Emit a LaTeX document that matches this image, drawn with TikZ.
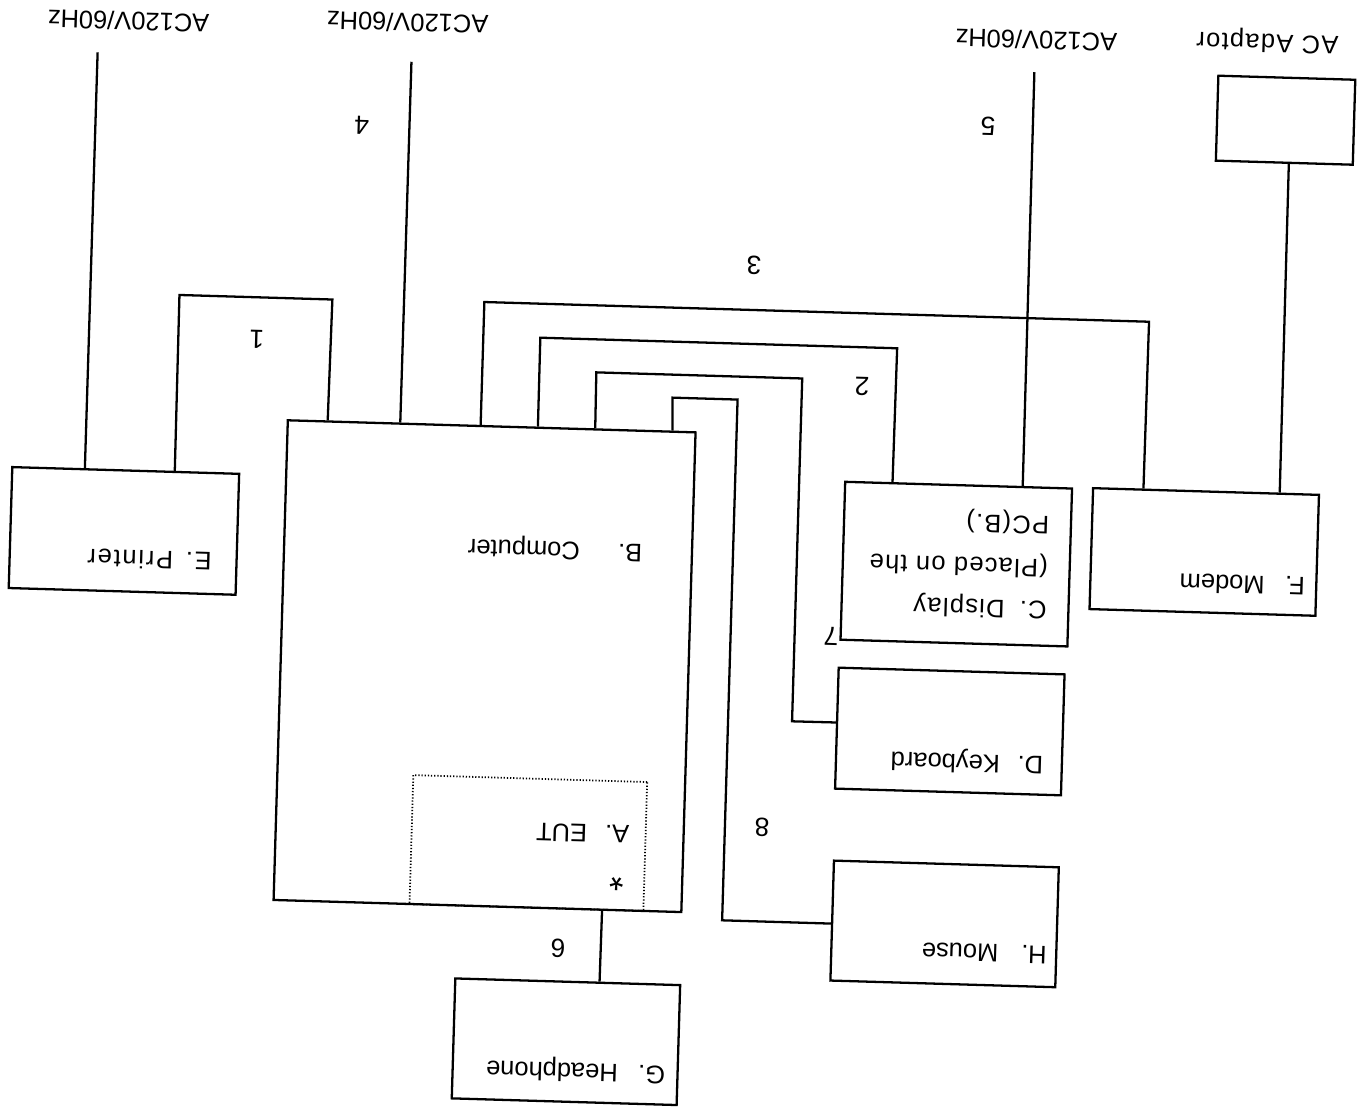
\documentclass[tikz,border=0pt]{standalone}
\usepackage{fontspec}
\setmainfont{Liberation Sans}
\newfontfamily\widef[LetterSpace=5]{Liberation Sans}
\newfontfamily\widerf[LetterSpace=7]{Liberation Sans}
\usetikzlibrary{calc}
\begin{document}
\begin{tikzpicture}[x=0.02cm,y=-0.02cm,
  box/.style={draw, line width=1.3pt, inner sep=0pt},
  eutbox/.style={draw, line width=1pt, dash pattern=on 0.7pt off 1.1pt, inner sep=0pt},
  wire/.style={line width=1.3pt, line join=miter},
  txt/.style={rotate=180, inner sep=0pt, font=\fontsize{14.5}{17}\selectfont},
  num/.style={rotate=180, inner sep=0pt, font=\fontsize{15}{17}\selectfont}]
\fill[white] (0,0) rectangle (1366,1107);
\useasboundingbox (0,0) rectangle (1366,1107);
\begin{scope}[rotate around={-1.7:(683,553)}, transform shape]
% boxes
\node[box, minimum width=8.16cm, minimum height=9.6cm] (B) at (488,672) {};
\node[eutbox, minimum width=4.68cm, minimum height=2.58cm] (A) at (537,847.5) {};
\node[box, minimum width=4.54cm, minimum height=2.42cm] (E) at (123.5,547.5) {};
\node[box, minimum width=4.54cm, minimum height=3.16cm] (C) at (956.5,556) {};
\node[box, minimum width=4.52cm, minimum height=2.42cm] (F) at (1204,536.5) {};
\node[box, minimum width=4.52cm, minimum height=2.42cm] (D) at (955,723.5) {};
\node[box, minimum width=4.50cm, minimum height=2.40cm] (H) at (955.5,916) {};
\node[box, minimum width=4.50cm, minimum height=2.40cm] (G) at (580.5,1045) {};
\node[box, minimum width=2.74cm, minimum height=1.70cm] (ACA) at (1272.5,102.5) {};
% free ends of the mains cables
\coordinate (pE) at (83,70);
\coordinate (pB) at (397,70);
\coordinate (pC) at (1020,62);
% box texts
\node[txt] (tB) at (555,552) {B.\hspace{1.5em}Computer};
\node[txt] (tA) at (591,836) {A.\hspace{0.7em}EUT};
\node[txt, font=\fontsize{21}{22}\selectfont] (tstar) at (627,880) {*};
\node[txt] (tE) at (150,576) {\widerf E.\hspace{0.5em}Printer};
\node[txt, anchor=base west] (tC1) at (1048.5,591) {\widef C.\hspace{0.6em}Display};
\node[txt, anchor=base west] (tC2) at (1048.5,549) {\widef (Placed on the};
\node[txt, anchor=base west] (tC3) at (1048.5,506) {\widef PC(B.)};
\node[txt] (tF) at (1243,568) {F.\hspace{0.8em}Modem};
\node[txt] (tD) at (973,752.6) {D.\hspace{0.7em}Keyboard};
\node[txt] (tH) at (996,944) {H.\hspace{0.9em}Mouse};
\node[txt] (tG) at (591,1073) {G.\hspace{0.8em}Headphone};
% mains / adaptor labels
\node[txt] (acE) at (113,38) {AC120V/60Hz};
\node[txt] (acB) at (392,31) {AC120V/60Hz};
\node[txt] (acC) at (1021,30) {AC120V/60Hz};
\node[txt] (acA) at (1252,24) {\widef AC Adaptor};
% cables
\draw[wire] ($(E.north west)!0.714!(E.north east)$) -- (172,310) -- (325,310) -- ($(B.north west)!0.1!(B.north east)$);
\draw[wire] ($(E.north west)!0.3216!(E.north east)$) -- (pE);
\draw[wire] ($(B.north west)!0.277!(B.north east)$) -- (pB);
\draw[wire] ($(B.north west)!0.473!(B.north east)$) -- (477,308) -- (1142,308) -- ($(F.north west)!0.2257!(F.north east)$);
\draw[wire] ($(B.north west)!0.6127!(B.north east)$) -- (534,342) -- (891,342) -- ($(C.north west)!0.2115!(C.north east)$);
\draw[wire] ($(B.north west)!0.7525!(B.north east)$) -- (591,375) -- (797,375) -- (797,718) -- ($(D.north west)!0.4545!(D.south west)$);
\draw[wire] ($(B.north west)!0.941!(B.north east)$) -- (668,398) -- (733,398) -- (733,919) -- ($(H.north west)!0.525!(H.south west)$);
\draw[wire] ($(C.north west)!0.7797!(C.north east)$) -- (pC);
\draw[wire] ($(ACA.south west)!0.5328!(ACA.south east)$) -- ($(F.north west)!0.823!(F.north east)$);
\draw[wire] ($(B.south west)!0.804!(B.south east)$) -- ($(G.north west)!0.64!(G.north east)$);
% cable numbers
\node[num] (n1) at (250.6,351.6) {1};
\node[num] (n2) at (857,381.7) {2};
\node[num] (n3) at (745.4,262.9) {3};
\node[num] (n4) at (349.3,135.5) {4};
\node[num] (n5) at (975.3,116.9) {5};
\node[num] (n6) at (569.7,951.7) {6};
\node[num] (n7) at (833.5,631.6) {7};
\node[num] (n8) at (770,824.7) {8};
\end{scope}
\end{tikzpicture}
\end{document}
